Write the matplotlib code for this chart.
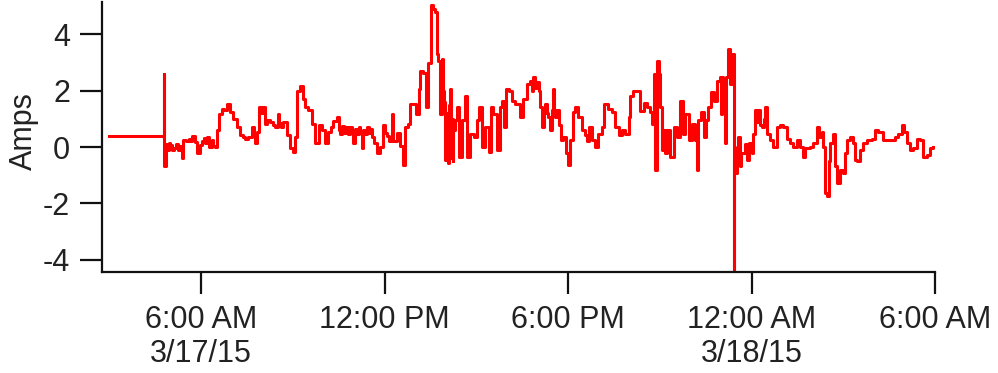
import matplotlib
matplotlib.use("Agg")
import matplotlib.pyplot as plt
import numpy as np

# hours counted from midnight 3/17/15, current in amps
hours_morning = [3.00, 4.76, 4.78, 4.80, 4.84, 4.88, 4.94, 4.99, 5.04, 5.10, 5.18, 5.26, 5.32, 5.37,
                 5.42, 5.50, 5.59, 5.64, 5.69, 5.80, 5.88, 5.97, 6.03, 6.08, 6.14, 6.19, 6.27, 6.35,
                 6.40, 6.46, 6.52, 6.57, 6.68, 6.76, 6.84, 6.95, 7.06, 7.17, 7.28, 7.36, 7.44, 7.55,
                 7.66, 7.72, 7.77, 7.84, 7.91, 7.97, 8.04, 8.09, 8.17, 8.26, 8.34, 8.42, 8.50, 8.55,
                 8.60, 8.69, 8.80, 8.91, 9.02, 9.07, 9.13, 9.24, 9.32, 9.40, 9.51, 9.62, 9.73, 9.84,
                 9.95, 10.05, 10.16, 10.25, 10.33, 10.44]
amps_morning = [0.39, 0.39, 2.59, -0.69, 0.10, -0.10, 0.15, 0.07, -0.10, -0.04, 0.10, -0.10, 0.05, -0.38,
                0.25, 0.20, 0.30, 0.20, 0.39, 0.19, -0.22, 0.07, 0.20, 0.32, 0.15, 0.35, 0.01, 0.25,
                0.05, 0.00, 0.60, 1.19, 1.36, 1.30, 1.53, 1.24, 1.01, 0.71, 0.42, 0.35, 0.30, 0.35,
                0.71, 0.50, 0.14, 0.55, 1.41, 1.20, 1.41, 0.83, 0.95, 0.88, 0.80, 0.71, 1.19, 0.85,
                0.71, 0.88, 0.42, -0.04, -0.16, 0.35, 2.00, 2.18, 1.72, 1.41, 1.30, 0.83, 0.13, 0.77,
                0.60, 0.13, 0.55, 0.70, 0.94, 1.06]

hours_midday = [10.50, 10.55, 10.62, 10.68, 10.74, 10.80, 10.86, 10.92, 10.98, 11.04, 11.10, 11.16,
                11.20, 11.25, 11.30, 11.36, 11.42, 11.48, 11.53, 11.58, 11.64, 11.74, 11.85, 11.96,
                12.02, 12.07, 12.15, 12.23, 12.29, 12.40, 12.51, 12.59, 12.67, 12.78, 12.83, 12.94,
                13.03, 13.11, 13.16, 13.27, 13.36, 13.43, 13.47, 13.51, 13.58, 13.65, 13.71, 13.76,
                13.82, 13.87, 13.92, 13.95, 13.98, 14.00, 14.03, 14.06, 14.09, 14.12, 14.14, 14.17,
                14.20, 14.23, 14.25, 14.31, 14.38, 14.45, 14.52, 14.63, 14.69, 14.80, 14.91, 15.01,
                15.10, 15.18, 15.29, 15.40, 15.47, 15.56, 15.67, 15.76, 15.83, 15.91, 15.97, 16.08,
                16.16, 16.27, 16.43, 16.54, 16.65]
amps_midday = [0.60, 0.45, 0.75, 0.50, 0.70, 0.45, 0.70, 0.50, 0.13, 0.65, 0.45, 0.70,
               0.50, -0.04, 0.60, 0.45, 0.70, 0.50, 0.65, 0.36, 0.13, -0.22, 0.00, 0.77,
               0.50, 0.40, 0.20, 1.19, 0.20, 0.50, 0.03, -0.63, 0.71, 0.83, 1.53, 1.53,
               1.19, 2.06, 2.70, 2.64, 1.41, 2.99, 3.00, 5.04, 4.90, 4.80, 3.29, 3.06,
               1.19, 3.12, 2.00, 1.60, -0.46, 1.20, -0.30, 0.90, -0.57, 1.50, 2.06, -0.40,
               1.00, -0.50, 0.60, 0.95, 1.41, -0.35, 0.95, 1.82, -0.35, 0.48, 0.36, 0.95,
               1.41, 0.00, 0.71, -0.16, 1.41, 1.19, -0.12, 1.41, 1.65, 0.71, 2.06, 2.00,
               1.65, 1.53, 1.07, 1.71, 2.23]

hours_evening = [16.76, 16.82, 16.87, 16.92, 16.98, 17.04, 17.09, 17.14, 17.20, 17.25, 17.30, 17.36,
                 17.41, 17.46, 17.50, 17.54, 17.58, 17.64, 17.69, 17.72, 17.76, 17.85, 17.94, 18.01,
                 18.07, 18.16, 18.23, 18.34, 18.45, 18.56, 18.62, 18.67, 18.78, 18.89, 18.99, 19.10,
                 19.18, 19.29, 19.43, 19.54, 19.65, 19.76, 19.87, 19.98, 20.03, 20.14, 20.25, 20.36,
                 20.47, 20.58, 20.68, 20.74, 20.81, 20.85, 20.90, 20.96, 21.01, 21.07, 21.12, 21.18,
                 21.23, 21.34, 21.45, 21.56, 21.67, 21.75, 21.83, 21.94, 22.05, 22.16, 22.21, 22.26,
                 22.34, 22.43, 22.52, 22.59, 22.67, 22.76, 22.86]
amps_evening = [2.34, 2.00, 2.47, 2.10, 2.30, 2.00, 1.41, 0.71, 1.20, 1.52, 1.20, 1.06,
                0.60, 1.30, 2.06, 1.30, 1.06, 1.30, 1.29, 0.80, 0.25, 0.36, -0.22, -0.63,
                0.25, 1.24, 1.41, 1.06, 0.60, 0.42, 0.20, 0.71, 0.25, 0.01, 0.48, 0.71,
                1.52, 1.35, 1.24, 0.71, 0.42, 0.60, 0.48, 1.06, 1.82, 2.00, 2.00, 1.29,
                1.58, 1.41, 1.24, 0.83, 2.58, -0.81, 3.05, 2.58, 1.41, -0.10, 0.60, -0.20,
                0.60, -0.34, 0.71, 0.36, 1.64, 0.48, 1.17, 0.25, 0.83, 0.25, -0.81, 0.95,
                1.24, 0.36, 0.95, 1.41, 1.94, 1.64, 2.35]

hours_night = [22.97, 23.00, 23.02, 23.08, 23.13, 23.17, 23.24, 23.30, 23.35, 23.42, 23.43, 23.44,
               23.49, 23.53, 23.57, 23.62, 23.67, 23.73, 23.78, 23.84, 23.93, 24.01, 24.06, 24.11,
               24.16, 24.22, 24.28, 24.33, 24.40, 24.44, 24.50, 24.61, 24.71, 24.82, 24.93, 25.04,
               25.15, 25.26, 25.37, 25.48, 25.59, 25.67, 25.75, 25.91, 26.02, 26.13, 26.19, 26.29,
               26.35, 26.40, 26.48, 26.53, 26.57, 26.68, 26.73, 26.81, 26.89, 26.98, 27.06, 27.13,
               27.22, 27.31, 27.38, 27.46, 27.55, 27.64, 27.77, 27.93, 28.04, 28.15, 28.31, 28.53,
               28.69, 28.80, 28.91, 28.99, 29.07, 29.18, 29.29, 29.40, 29.51, 29.62, 29.73, 29.84,
               29.95]
amps_night = [2.47, 1.18, 2.47, 1.72, 0.13, 2.47, 3.47, 2.23, 3.30, 3.20, -4.60, -0.50,
              -0.92, 0.00, 0.36, -0.69, -0.20, -0.22, 0.10, -0.46, 0.13, -0.22, 0.48, 1.30,
              0.90, 1.30, 0.80, 0.71, 1.00, 1.41, 0.48, 0.25, 0.01, 0.71, 0.77, 0.71,
              0.30, 0.13, 0.01, 0.25, 0.01, -0.34, -0.04, 0.01, 0.13, 0.71, 0.36, 0.55,
              0.01, -1.63, -1.74, -0.50, 0.13, 0.48, -0.69, -1.28, -0.81, -0.92, -0.22, 0.25,
              0.36, 0.13, -0.46, -0.51, -0.10, 0.13, 0.25, 0.30, 0.60, 0.55, 0.25, 0.25,
              0.36, 0.48, 0.77, 0.55, 0.13, -0.10, -0.04, 0.30, 0.25, -0.34, -0.28, -0.04,
              0.01]

tick_hours = [6, 12, 18, 24, 30]
tick_labels = ["6:00 AM\n3/17/15", "12:00 PM", "6:00 PM", "12:00 AM\n3/18/15", "6:00 AM"]
y_ticks = [-4, -2, 0, 2, 4]

hours = np.array(hours_morning + hours_midday + hours_evening + hours_night)
amps = np.array(amps_morning + amps_midday + amps_evening + amps_night)

plt.rcParams["font.family"] = ["Liberation Sans", "DejaVu Sans"]
plt.rcParams["axes.unicode_minus"] = False

text_color = "#222222"
fig = plt.figure(figsize=(9.98, 3.73), dpi=100)
ax = fig.add_axes([0.1022, 0.272, 0.8347, 0.7226])

ax.plot(hours, amps, color="#ff0000", lw=2.2, drawstyle="steps-post")

ax.set_xlim(2.76, 30.0)
ax.set_ylim(-4.42, 5.15)
ax.set_xticks(tick_hours, labels=tick_labels)
ax.set_yticks(y_ticks, labels=[str(v) for v in y_ticks])

for side in ("top", "right"):
    ax.spines[side].set_visible(False)
for side in ("left", "bottom"):
    ax.spines[side].set_linewidth(1.6)
    ax.spines[side].set_color("#111111")

ax.tick_params(axis="both", direction="out", length=16, width=1.6, color="#111111",
               labelsize=22, labelcolor=text_color)
ax.tick_params(axis="x", pad=8)
ax.tick_params(axis="y", pad=7)

ax.set_ylabel("Amps", fontsize=22, color=text_color)
ax.yaxis.set_label_coords(-0.076, 0.52)

fig.savefig("out.png", dpi=100)
